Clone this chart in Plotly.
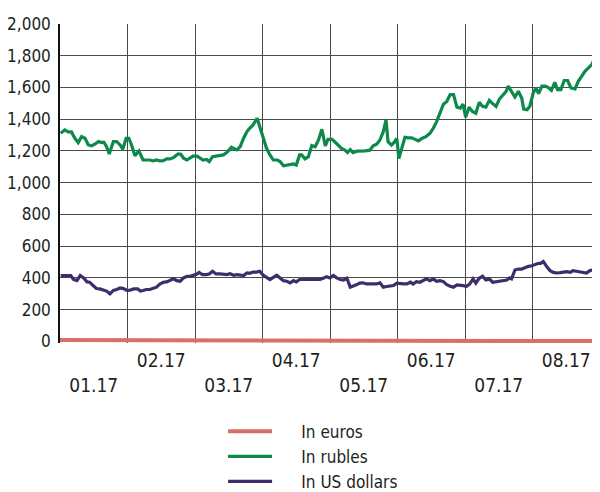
import plotly.graph_objects as go

# ---- data (x = position in months from 1 Jan 2017) ----
month_labels = ["01.17", "02.17", "03.17", "04.17", "05.17", "06.17", "07.17", "08.17"]

rub_t = [0.01,0.07,0.12,0.17,0.22,0.27,0.32,0.37,0.42,0.47,0.52,0.57,0.62,0.65,0.69,0.73,0.79,0.84,0.89,0.93,
         0.98,1.02,1.06,1.11,1.15,1.17,1.23,1.28,1.33,1.38,1.43,1.48,1.53,1.58,1.63,1.68,1.75,1.79,1.83,1.88,
         1.93,1.97,2.03,2.07,2.12,2.17,2.21,2.26,2.32,2.37,2.42,2.47,2.54,2.62,2.67,2.72,2.77,2.81,2.86,2.92,
         2.97,3.02,3.06,3.11,3.16,3.22,3.26,3.31,3.36,3.41,3.46,3.50,3.55,3.58,3.63,3.68,3.73,3.78,3.83,3.88,
         3.93,3.97,4.03,4.07,4.12,4.17,4.22,4.26,4.30,4.34,4.40,4.44,4.52,4.59,4.64,4.69,4.74,4.79,4.83,4.86,
         4.91,4.95,4.99,5.02,5.06,5.11,5.16,5.21,5.26,5.31,5.36,5.42,5.48,5.53,5.58,5.63,5.68,5.73,5.78,5.83,
         5.88,5.93,5.97,6.01,6.06,6.11,6.16,6.21,6.26,6.31,6.36,6.41,6.46,6.51,6.56,6.61,6.64,6.69,6.74,6.79,
         6.84,6.87,6.92,6.96,7.01,7.05,7.09,7.14,7.19,7.23,7.28,7.33,7.37,7.42,7.47,7.52,7.57,7.63,7.68,7.73,
         7.78,7.83,7.88,7.93,7.97]
rub_v = [1312,1333,1320,1320,1280,1253,1290,1280,1238,1232,1244,1259,1253,1255,1227,1181,1259,1259,1238,1211,
         1280,1280,1238,1170,1192,1200,1143,1143,1143,1137,1143,1137,1139,1150,1150,1158,1181,1179,1154,1143,
         1158,1168,1168,1158,1143,1147,1133,1164,1168,1170,1175,1190,1223,1207,1227,1280,1322,1343,1364,1406,
         1333,1259,1217,1175,1143,1143,1133,1107,1111,1118,1118,1111,1175,1175,1150,1164,1234,1227,1270,1337,
         1232,1273,1273,1258,1237,1216,1205,1190,1209,1190,1199,1199,1201,1205,1233,1243,1269,1322,1396,1258,
         1237,1254,1279,1152,1216,1286,1283,1283,1273,1264,1279,1290,1311,1343,1385,1434,1495,1512,1555,1555,
         1476,1470,1495,1413,1476,1449,1438,1506,1481,1476,1519,1498,1481,1527,1548,1576,1608,1576,1540,1576,
         1534,1464,1460,1481,1565,1597,1561,1608,1608,1601,1582,1633,1587,1587,1644,1644,1597,1591,1640,1671,
         1703,1724,1746,1788,1820]

usd_t = [0.01,0.07,0.16,0.20,0.25,0.30,0.35,0.40,0.44,0.49,0.54,0.59,0.64,0.69,0.74,0.79,0.84,0.89,0.94,0.99,
         1.04,1.09,1.15,1.19,1.23,1.28,1.33,1.38,1.43,1.48,1.53,1.58,1.63,1.68,1.73,1.78,1.83,1.88,1.93,1.97,
         2.03,2.06,2.11,2.16,2.21,2.26,2.31,2.37,2.42,2.47,2.52,2.57,2.62,2.67,2.72,2.77,2.81,2.86,2.91,2.96,
         3.01,3.06,3.11,3.16,3.21,3.26,3.31,3.36,3.41,3.46,3.50,3.55,3.60,3.65,3.70,3.75,3.80,3.85,3.90,3.95,
         4.00,4.05,4.10,4.15,4.20,4.25,4.30,4.35,4.40,4.44,4.49,4.54,4.59,4.64,4.69,4.74,4.79,4.84,4.89,4.94,
         4.99,5.04,5.09,5.14,5.19,5.23,5.28,5.33,5.38,5.43,5.48,5.53,5.58,5.63,5.68,5.73,5.78,5.83,5.88,5.93,
         5.97,6.02,6.07,6.12,6.16,6.21,6.26,6.31,6.36,6.41,6.47,6.52,6.57,6.62,6.66,6.69,6.74,6.79,6.84,6.89,
         6.94,6.99,7.04,7.09,7.12,7.16,7.21,7.26,7.31,7.36,7.41,7.46,7.51,7.56,7.60,7.65,7.70,7.75,7.80,7.85,
         7.90,7.97]
usd_v = [415,415,415,390,383,415,400,375,373,352,333,331,323,317,300,321,327,337,333,321,
         323,331,331,317,321,327,327,337,342,362,373,375,385,394,383,379,400,410,410,415,
         425,435,421,421,425,442,425,425,421,421,427,417,421,417,415,431,429,437,437,442,
         417,404,390,404,417,400,383,379,369,383,375,390,390,385,390,390,385,390,398,408,
         400,415,400,390,387,398,342,348,358,367,369,362,362,358,362,369,342,346,348,352,
         367,362,362,362,373,362,377,373,383,394,383,394,379,383,377,358,348,342,356,356,
         352,346,362,394,367,398,410,387,394,373,377,377,383,387,400,394,450,456,456,467,
         473,477,487,492,492,504,471,446,435,431,433,435,440,435,446,442,440,435,431,446,
         450,440]

eur_t = [0.0, 0.1, 0.2, 0.5, 1.0, 1.5, 2.0, 2.5, 3.0, 3.5, 4.0, 4.5, 4.8, 5.0, 5.3, 5.6, 5.9, 6.2, 6.5, 6.8, 7.0, 7.5, 8.0]
eur_v = [9, 9, 3, 3, 3, 3, 3, 3, 3, 3, 3, 4, 7, 8, 8, 8, 9, 7, 5, 3, 2, 2, 2]

y_ticks = [0, 200, 400, 600, 800, 1000, 1200, 1400, 1600, 1800, 2000]

FONT = "DejaVu Sans Condensed, Liberation Sans Narrow, sans-serif"
PAD = "\u00a0" * 5  # gap between legend line and legend text

fig = go.Figure()
fig.add_trace(go.Scatter(x=eur_t, y=eur_v, mode="lines", name=PAD + "In euros",
                         line=dict(color="#d7706a", width=4)))
fig.add_trace(go.Scatter(x=rub_t, y=rub_v, mode="lines", name=PAD + "In rubles",
                         line=dict(color="#0b8a4b", width=3.2)))
fig.add_trace(go.Scatter(x=usd_t, y=usd_v, mode="lines", name=PAD + "In US dollars",
                         line=dict(color="#3f2d6b", width=3.2)))

# staggered month labels, centred in each month
tick_pos = [i + 0.5 for i in range(len(month_labels))]
tick_text = [("<br>" + m) if i % 2 == 0 else m for i, m in enumerate(month_labels)]

# the page body has a default 8px margin, so the figure is 8px smaller than the window
fig.update_layout(
    width=592, height=484,
    margin=dict(l=52, r=0, t=16, b=149),
    paper_bgcolor="white", plot_bgcolor="white",
    font=dict(family=FONT, size=18, color="#231f20"),
    showlegend=True,
    legend=dict(xref="paper", yref="container", x=0.302, xanchor="left",
                y=0.073, yanchor="middle",
                font=dict(family=FONT, size=17, color="#231f20"),
                bgcolor="rgba(0,0,0,0)", itemwidth=44, tracegroupgap=0),
    xaxis=dict(range=[0, 8], tickvals=tick_pos, ticktext=tick_text, showgrid=False,
               ticks="", zeroline=False, showline=False, fixedrange=True, automargin=False,
               ticklabelstandoff=4, tickfont=dict(size=19),
               minor=dict(tickvals=list(range(1, 9)), showgrid=True, gridcolor="#4a4a4a", gridwidth=1)),
    yaxis=dict(range=[-10, 2000], tickvals=y_ticks, tickformat=",d", showgrid=True,
               gridcolor="#4a4a4a", gridwidth=1, zeroline=False, automargin=False,
               showline=True, linecolor="#111", linewidth=1.5, ticks="", ticklabelstandoff=4,
               tickfont=dict(size=17)),
)

fig.write_html("out.html")
